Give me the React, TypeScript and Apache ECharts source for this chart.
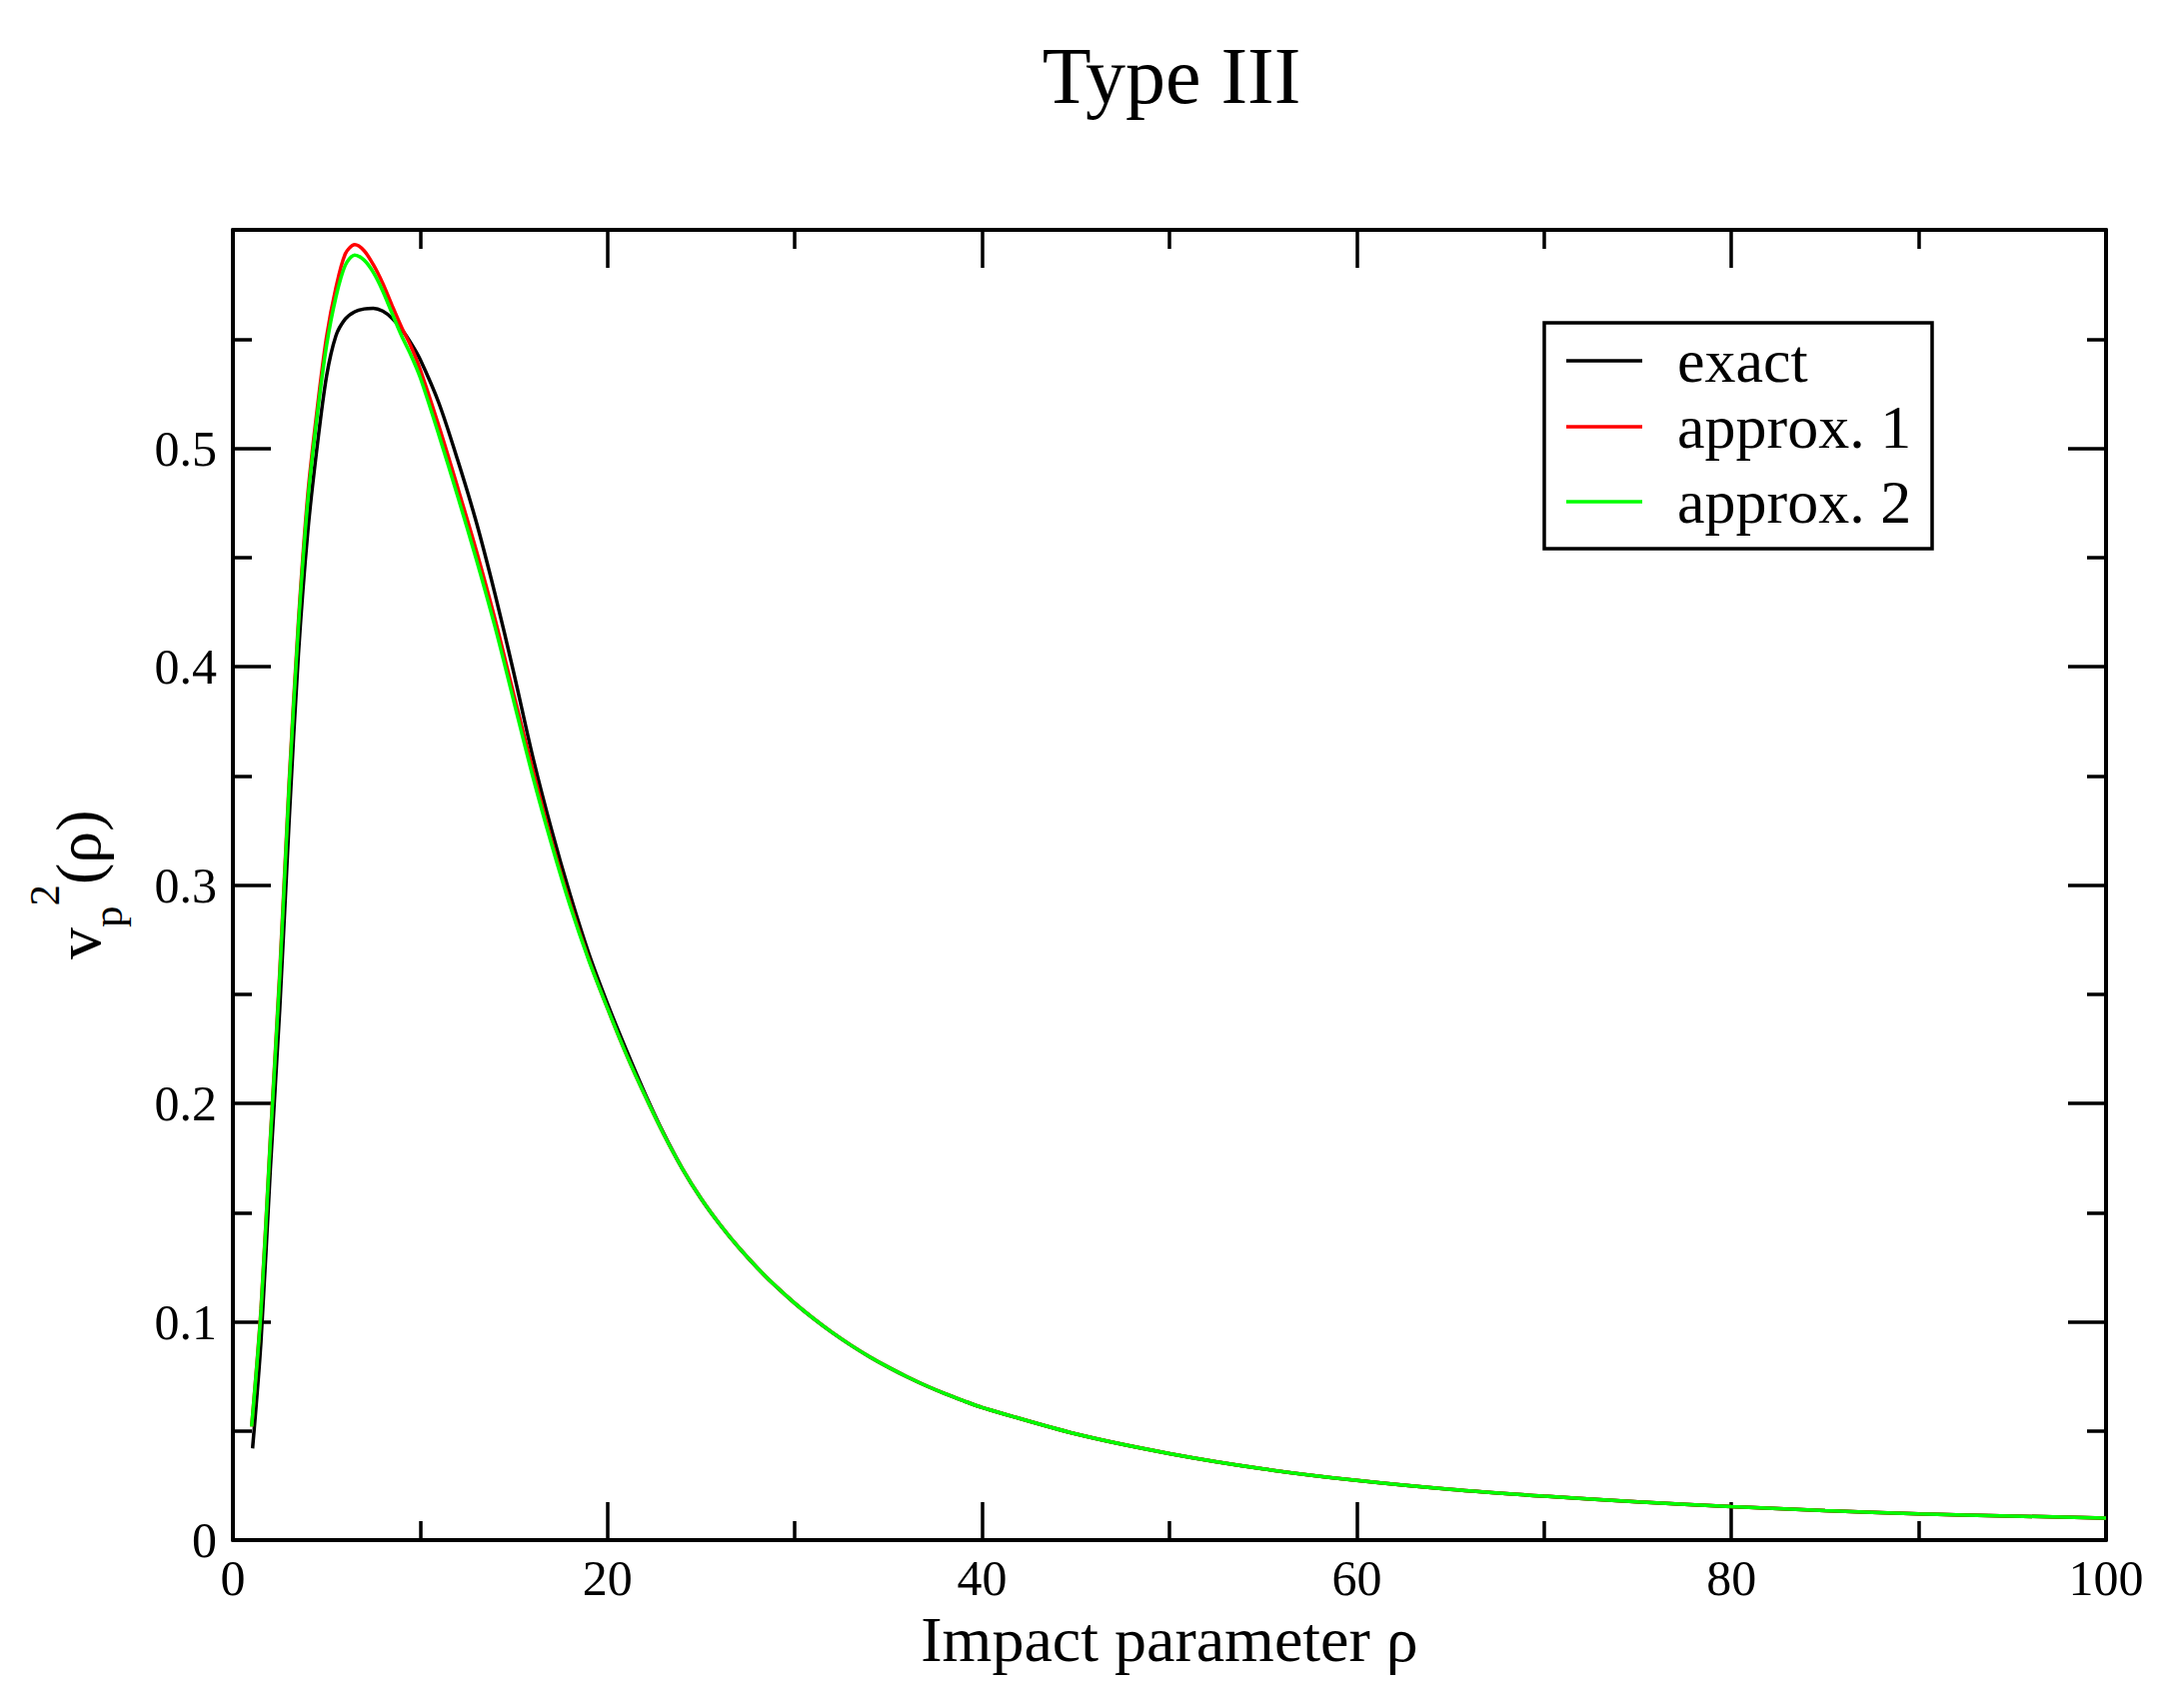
import React, { useEffect, useRef } from "react";
import * as echarts from "echarts";

// ---- data ----
const rhoApprox = [1, 1.5, 2, 2.5, 3, 3.5, 4, 4.5, 5, 5.5, 6, 6.5, 7, 7.5, 8, 8.5, 9, 9.5, 10, 11, 12, 13, 14, 15, 16, 17, 18, 19, 20, 21, 22, 23, 24, 25, 26, 27, 28, 29, 30, 31, 32, 33, 34, 35, 36, 37, 38, 39, 40, 45, 50, 55, 60, 65, 70, 75, 80, 85, 90, 95, 100];

const approx2 = [0.052, 0.105, 0.183, 0.258, 0.345, 0.419, 0.476, 0.515, 0.547, 0.5692, 0.5838, 0.5885, 0.5862, 0.5805, 0.572, 0.5617, 0.5516, 0.5427, 0.5324, 0.506, 0.478, 0.449, 0.418, 0.384, 0.35, 0.319, 0.2905, 0.2655, 0.2435, 0.2225, 0.2035, 0.1858, 0.17, 0.1563, 0.1445, 0.134, 0.1246, 0.1161, 0.1084, 0.1014, 0.095, 0.0892, 0.0839, 0.0791, 0.0747, 0.0707, 0.0671, 0.0638, 0.0607, 0.0486, 0.0396, 0.0326, 0.0273, 0.0232, 0.0201, 0.0175, 0.0153, 0.0135, 0.012, 0.011, 0.0101];

const approx1 = [0.052, 0.106, 0.184, 0.26, 0.347, 0.421, 0.479, 0.518, 0.551, 0.5735, 0.589, 0.5932, 0.5905, 0.584, 0.5755, 0.5653, 0.5555, 0.5467, 0.536, 0.51, 0.482, 0.453, 0.4215, 0.387, 0.353, 0.3205, 0.2915, 0.266, 0.2435, 0.2225, 0.2035, 0.1858, 0.17, 0.1563, 0.1445, 0.134, 0.1246, 0.1161, 0.1084, 0.1014, 0.095, 0.0892, 0.0839, 0.0791, 0.0747, 0.0707, 0.0671, 0.0638, 0.0607, 0.0486, 0.0396, 0.0326, 0.0273, 0.0232, 0.0201, 0.0175, 0.0153, 0.0135, 0.012, 0.011, 0.0101];

const rhoExact = [1.05, 1.5, 2, 2.5, 3, 3.5, 4, 4.5, 5, 5.5, 6, 6.5, 7, 7.5, 8, 8.5, 9, 9.5, 10, 11, 12, 13, 14, 15, 16, 17, 18, 19, 20, 21, 22, 23, 24, 25, 26, 27, 28, 29, 30, 31, 32, 33, 34, 35, 36, 37, 38, 39, 40, 45, 50, 55, 60, 65, 70, 75, 80, 85, 90, 95, 100];

const exact = [0.042, 0.091, 0.17, 0.243, 0.329, 0.406, 0.462, 0.501, 0.533, 0.5515, 0.5592, 0.5625, 0.5638, 0.5641, 0.5628, 0.5595, 0.5545, 0.5482, 0.5406, 0.5206, 0.4946, 0.466, 0.433, 0.397, 0.359, 0.3256, 0.2956, 0.2686, 0.2456, 0.2245, 0.2045, 0.1862, 0.17, 0.1563, 0.1445, 0.134, 0.1246, 0.1161, 0.1084, 0.1014, 0.095, 0.0892, 0.0839, 0.0791, 0.0747, 0.0707, 0.0671, 0.0638, 0.0607, 0.0486, 0.0396, 0.0326, 0.0273, 0.0232, 0.0201, 0.0175, 0.0153, 0.0135, 0.012, 0.011, 0.0101];

const seriesNames = ["exact", "approx. 1", "approx. 2"];
const seriesColors = ["#000000", "#ff0000", "#00ff00"];
const xTicks = { min: 0, max: 100, interval: 20 };
const yTicks = { min: 0, max: 0.6, interval: 0.1 };
const titleText = "Type III";
const xTitle = "Impact parameter ρ";

const FONT = "Liberation Serif";

function zip(xs: number[], ys: number[]) {
  return xs.map((x, i) => [x, ys[i]]);
}

export default function App() {
  const ref = useRef<HTMLDivElement>(null);
  useEffect(() => {
    if (!ref.current) return;
    const chart = echarts.init(ref.current, null, { renderer: "svg" });

    const axisCommon = (pos: string, showLabel: boolean, isX: boolean) => ({
      type: "value",
      position: pos,
      ...(isX ? xTicks : yTicks),
      axisLine: { show: true, onZero: false, lineStyle: { color: "#000", width: 4 } },
      axisTick: { show: true, inside: true, length: 38, lineStyle: { color: "#000", width: 3.5 } },
      minorTick: { show: true, splitNumber: 2, length: 19, lineStyle: { color: "#000", width: 3.5 } },
      splitLine: { show: false },
      minorSplitLine: { show: false },
      axisLabel: {
        show: showLabel,
        margin: isX ? 13 : 16,
        fontSize: 50,
        color: "#000",
        fontFamily: FONT,
        showMaxLabel: isX ? true : false,
      },
    });

    const legendCommon = {
      orient: "vertical",
      icon: "rect",
      itemWidth: 76,
      itemHeight: 3.5,
      padding: 0,
      itemGap: 0,
      selectedMode: false,
      textStyle: { fontSize: 62, color: "#000", fontFamily: FONT, padding: [0, 0, 0, 30] },
    };
    const legendCenters = [361, 427, 502];

    const option: any = {
      animation: false,
      backgroundColor: "#ffffff",
      textStyle: { fontFamily: FONT },
      grid: { left: 233, top: 230, width: 1874, height: 1311, show: false },
      xAxis: [
        {
          ...axisCommon("bottom", true, true),
          name: xTitle,
          nameLocation: "middle",
          nameGap: 65,
          nameTextStyle: { fontSize: 64, color: "#000", fontFamily: FONT },
        },
        axisCommon("top", false, true),
      ],
      yAxis: [axisCommon("left", true, false), axisCommon("right", false, false)],
      legend: seriesNames.map((n, i) => ({
        ...legendCommon,
        data: [n],
        left: 1567,
        top: legendCenters[i] - 31,
      })),
      series: [
        { name: seriesNames[0], data: zip(rhoExact, exact) },
        { name: seriesNames[1], data: zip(rhoApprox, approx1) },
        { name: seriesNames[2], data: zip(rhoApprox, approx2) },
      ].map((s, i) => ({
        ...s,
        type: "line",
        xAxisIndex: 0,
        yAxisIndex: 0,
        color: seriesColors[i],
        showSymbol: false,
        symbol: "none",
        smooth: 0.3,
        lineStyle: { width: 3.5, color: seriesColors[i] },
      })),
      graphic: [
        {
          type: "text",
          x: 1172,
          y: 76,
          style: { text: titleText, fontSize: 80, fontFamily: FONT, fill: "#000", align: "center", verticalAlign: "middle" },
        },
        {
          type: "rect",
          shape: { x: 1545, y: 323, width: 388, height: 226 },
          style: { fill: "none", stroke: "#000", lineWidth: 3.5 },
        },
        {
          type: "group",
          x: 98,
          y: 960,
          rotation: Math.PI / 2,
          children: [
            { type: "text", x: 0, y: -19.5, style: { text: "v", fontSize: 64, fontFamily: FONT, fill: "#000", align: "left", verticalAlign: "middle" } },
            { type: "text", x: 32, y: 9, style: { text: "p", fontSize: 43, fontFamily: FONT, fill: "#000", align: "left", verticalAlign: "middle" } },
            { type: "text", x: 53.5, y: -54, style: { text: "2", fontSize: 43, fontFamily: FONT, fill: "#000", align: "left", verticalAlign: "middle" } },
            { type: "text", x: 75, y: -19.5, style: { text: "(ρ)", fontSize: 64, fontFamily: FONT, fill: "#000", align: "left", verticalAlign: "middle" } },
          ],
        },
      ],
    };
    chart.setOption(option);
    return () => chart.dispose();
  }, []);
  return (
    <div
      ref={ref}
      style={{ position: "absolute", left: 0, top: 0, width: 2174, height: 1709, background: "#fff" }}
    />
  );
}
